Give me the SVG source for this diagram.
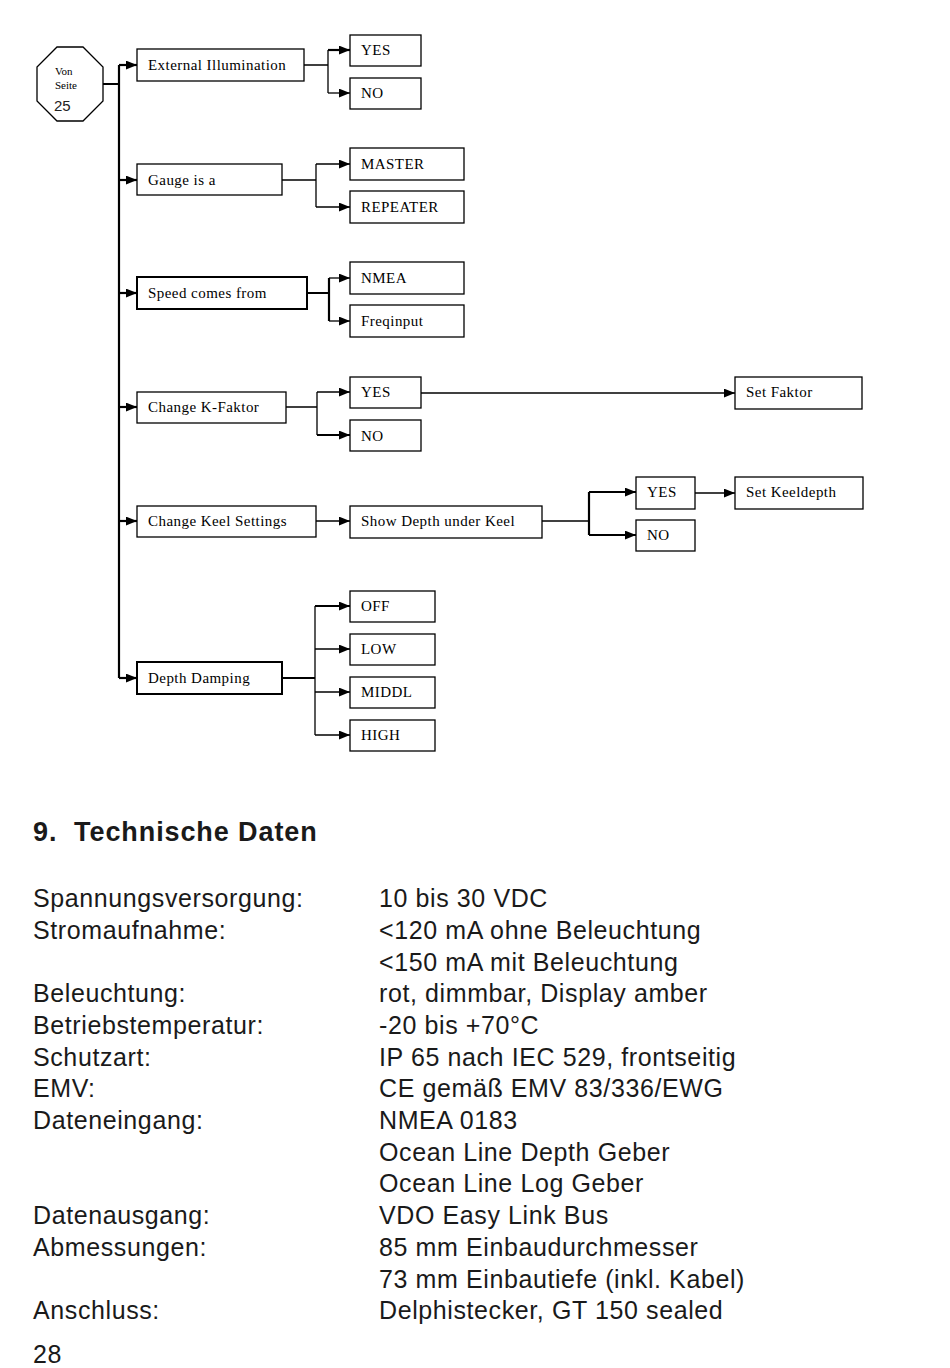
<svg xmlns="http://www.w3.org/2000/svg" width="950" height="1368" viewBox="0 0 950 1368">
<style>
.bx{fill:#fff;stroke:#000;stroke-width:1.3}
.bxt{fill:#fff;stroke:#000;stroke-width:2}
.t{font-family:"Liberation Serif","Times New Roman",serif;font-size:15px;letter-spacing:0.45px;fill:#000}
.c{fill:none;stroke:#000;stroke-width:1.3}
.ct{fill:none;stroke:#000;stroke-width:2.2}
.a{marker-end:url(#ah)}
.s{font-family:"Liberation Sans",Arial,sans-serif;font-size:25px;letter-spacing:0.6px;fill:#1a1a1a}
.h{font-family:"Liberation Sans",Arial,sans-serif;font-size:27px;font-weight:bold;letter-spacing:0.9px;fill:#1a1a1a}
</style>
<defs>
<marker id="ah" viewBox="0 0 10 8" refX="10" refY="4" markerWidth="11" markerHeight="9" markerUnits="userSpaceOnUse" orient="auto"><path d="M0,0 L10,4 L0,8 Z" fill="#000"/></marker>
</defs>
<rect width="950" height="1368" fill="#fff"/>
<g id="connectors">
<path class="ct" d="M103,84 H119 M119,65 V678"/>
<path class="ct a" d="M119,65 H137"/>
<path class="ct a" d="M119,180 H137"/>
<path class="ct a" d="M119,293 H137"/>
<path class="ct a" d="M119,407 H137"/>
<path class="ct a" d="M119,521 H137"/>
<path class="ct a" d="M119,678 H137"/>
<path class="c" d="M304,65 H328 M328,50 V93"/>
<path class="ct a" d="M328,50 H350"/>
<path class="c a" d="M328,93 H350"/>
<path class="c" d="M282,180 H316 M316,164 V207"/>
<path class="c a" d="M316,164 H350"/>
<path class="c a" d="M316,207 H350"/>
<path class="ct" d="M307,293 H329 M329,278 V321"/>
<path class="c a" d="M329,278 H350"/>
<path class="c a" d="M329,321 H350"/>
<path class="c" d="M286,407 H317 M317,392 V435"/>
<path class="c a" d="M317,392 H350"/>
<path class="ct a" d="M317,435 H350"/>
<path class="c a" d="M421,393 H735"/>
<path class="c a" d="M316,521 H350"/>
<path class="c" d="M542,521 H589"/>
<path class="ct" d="M589,492 V535"/>
<path class="ct a" d="M589,492 H636"/>
<path class="ct a" d="M589,535 H636"/>
<path class="c a" d="M695,493 H735"/>
<path class="ct" d="M282,678 H315"/>
<path class="c" d="M315,606 V735"/>
<path class="ct a" d="M315,606 H350"/>
<path class="c a" d="M315,649 H350"/>
<path class="c a" d="M315,692 H350"/>
<path class="c a" d="M315,735 H350"/>
</g>
<g id="start">
<polygon class="bx" points="57,47 83,47 103,67 103,101 83,121 57,121 37,101 37,67"/>
<text x="55" y="75" style="font-family:'Liberation Serif',serif;font-size:11px">Von</text>
<text x="55" y="89" style="font-family:'Liberation Serif',serif;font-size:11px">Seite</text>
<text x="54" y="111" style="font-family:'Liberation Sans',Arial,sans-serif;font-size:15px;fill:#222">25</text>
</g>
<g id="ext"><rect class="bx" x="137" y="49" width="167" height="32"/><text class="t" x="148" y="70">External Illumination</text></g>
<g id="ext-yes"><rect class="bx" x="350" y="35" width="71" height="31"/><text class="t" x="361" y="55">YES</text></g>
<g id="ext-no"><rect class="bx" x="350" y="78" width="71" height="31"/><text class="t" x="361" y="98">NO</text></g>
<g id="gauge"><rect class="bx" x="137" y="164" width="145" height="31"/><text class="t" x="148" y="185">Gauge is a</text></g>
<g id="master"><rect class="bx" x="350" y="148" width="114" height="32"/><text class="t" x="361" y="169">MASTER</text></g>
<g id="repeater"><rect class="bx" x="350" y="191" width="114" height="32"/><text class="t" x="361" y="212">REPEATER</text></g>
<g id="speed"><rect class="bxt" x="137" y="277" width="170" height="32"/><text class="t" x="148" y="298">Speed comes from</text></g>
<g id="nmea"><rect class="bx" x="350" y="262" width="114" height="32"/><text class="t" x="361" y="283">NMEA</text></g>
<g id="freq"><rect class="bx" x="350" y="305" width="114" height="32"/><text class="t" x="361" y="326">Freqinput</text></g>
<g id="kfaktor"><rect class="bx" x="137" y="392" width="149" height="31"/><text class="t" x="148" y="412">Change K-Faktor</text></g>
<g id="k-yes"><rect class="bx" x="350" y="377" width="71" height="31"/><text class="t" x="361" y="397">YES</text></g>
<g id="k-no"><rect class="bx" x="350" y="420" width="71" height="31"/><text class="t" x="361" y="441">NO</text></g>
<g id="setfaktor"><rect class="bx" x="735" y="377" width="127" height="32"/><text class="t" x="746" y="397">Set Faktor</text></g>
<g id="keel"><rect class="bx" x="137" y="506" width="179" height="31"/><text class="t" x="148" y="526">Change Keel Settings</text></g>
<g id="showdepth"><rect class="bx" x="350" y="506" width="192" height="32"/><text class="t" x="361" y="526">Show Depth under Keel</text></g>
<g id="keel-yes"><rect class="bx" x="636" y="477" width="59" height="32"/><text class="t" x="647" y="497">YES</text></g>
<g id="keel-no"><rect class="bx" x="636" y="520" width="59" height="31"/><text class="t" x="647" y="540">NO</text></g>
<g id="setkeel"><rect class="bx" x="735" y="477" width="128" height="32"/><text class="t" x="746" y="497">Set Keeldepth</text></g>
<g id="damping"><rect class="bxt" x="137" y="662" width="145" height="32"/><text class="t" x="148" y="683">Depth Damping</text></g>
<g id="off"><rect class="bx" x="350" y="591" width="85" height="31"/><text class="t" x="361" y="611">OFF</text></g>
<g id="low"><rect class="bx" x="350" y="634" width="85" height="31"/><text class="t" x="361" y="654">LOW</text></g>
<g id="middl"><rect class="bx" x="350" y="677" width="85" height="31"/><text class="t" x="361" y="697">MIDDL</text></g>
<g id="high"><rect class="bx" x="350" y="720" width="85" height="31"/><text class="t" x="361" y="740">HIGH</text></g>
<g id="techdata">
<text class="h" x="33" y="841" xml:space="preserve">9.  Technische Daten</text>
<text class="s" x="33" y="907">Spannungsversorgung:</text><text class="s" x="379" y="907">10 bis 30 VDC</text>
<text class="s" x="33" y="939">Stromaufnahme:</text><text class="s" x="379" y="939">&lt;120 mA ohne Beleuchtung</text>
<text class="s" x="379" y="971">&lt;150 mA mit Beleuchtung</text>
<text class="s" x="33" y="1002">Beleuchtung:</text><text class="s" x="379" y="1002">rot, dimmbar, Display amber</text>
<text class="s" x="33" y="1034">Betriebstemperatur:</text><text class="s" x="379" y="1034">-20 bis +70°C</text>
<text class="s" x="33" y="1066">Schutzart:</text><text class="s" x="379" y="1066">IP 65 nach IEC 529, frontseitig</text>
<text class="s" x="33" y="1097">EMV:</text><text class="s" x="379" y="1097">CE gemäß EMV 83/336/EWG</text>
<text class="s" x="33" y="1129">Dateneingang:</text><text class="s" x="379" y="1129">NMEA 0183</text>
<text class="s" x="379" y="1161">Ocean Line Depth Geber</text>
<text class="s" x="379" y="1192">Ocean Line Log Geber</text>
<text class="s" x="33" y="1224">Datenausgang:</text><text class="s" x="379" y="1224">VDO Easy Link Bus</text>
<text class="s" x="33" y="1256">Abmessungen:</text><text class="s" x="379" y="1256">85 mm Einbaudurchmesser</text>
<text class="s" x="379" y="1288">73 mm Einbautiefe (inkl. Kabel)</text>
<text class="s" x="33" y="1319">Anschluss:</text><text class="s" x="379" y="1319">Delphistecker, GT 150 sealed</text>
<text class="s" x="33" y="1363">28</text>
</g>
</svg>
